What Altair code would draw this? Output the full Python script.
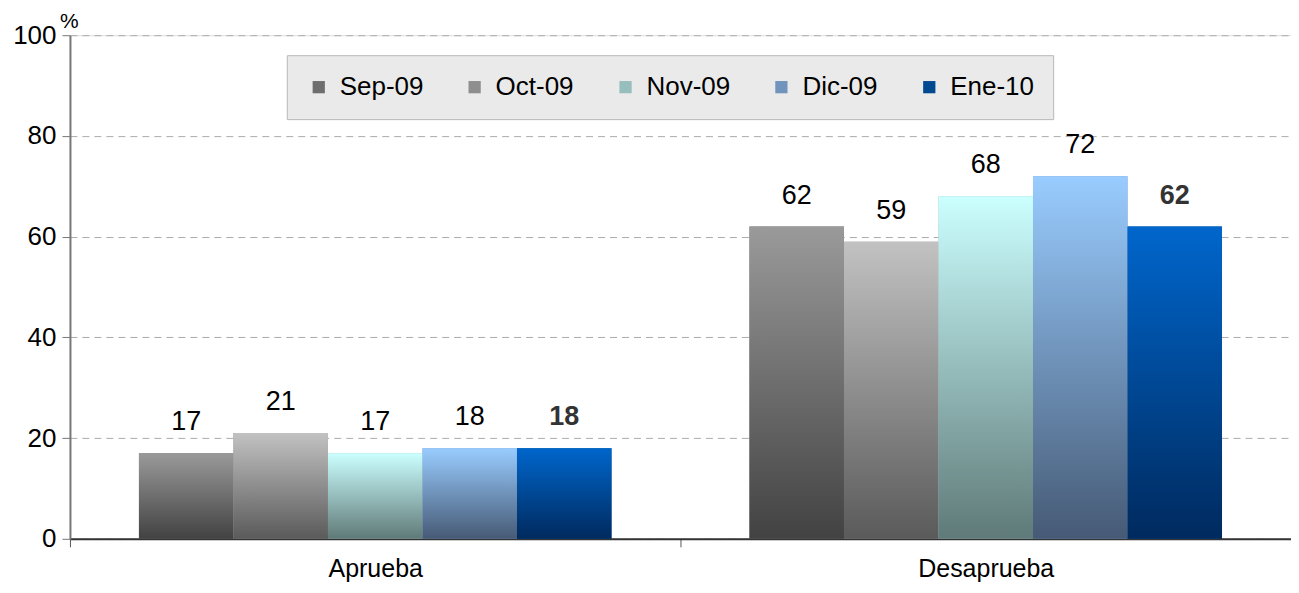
import altair as alt
import pandas as pd

categories = ["Aprueba", "Desaprueba"]
series = ["Sep-09", "Oct-09", "Nov-09", "Dic-09", "Ene-10"]
aprueba = [17, 21, 17, 18, 18]
desaprueba = [62, 59, 68, 72, 62]

top_colors = ["#9A9A9A", "#C2C2C2", "#CCFFFF", "#99CCFF", "#0066CC"]
bottom_colors = ["#424242", "#5A5A5A", "#5F7A78", "#465A75", "#002A5E"]
legend_colors = ["#6E6E6E", "#8E8E8E", "#96BEBC", "#7094BC", "#004890"]

rows = []
for cat, vals in zip(categories, [aprueba, desaprueba]):
    for s, v in zip(series, vals):
        rows.append({"cat": cat, "series": s, "value": v})
df = pd.DataFrame(rows)

FONT = "Liberation Sans"

x_enc = alt.X("cat:N", sort=categories, scale=alt.Scale(paddingInner=0, paddingOuter=0),
              axis=alt.Axis(title=None, labelAngle=0, labelFontSize=25, labelColor="#000000",
                            labelPadding=10, domainColor="#333333", domainWidth=2,
                            tickColor="#555555", tickSize=8, tickBand="extent", grid=False))
xo_enc = alt.XOffset("series:N", sort=series,
                     scale=alt.Scale(domain=series, paddingInner=0, paddingOuter=0.73))
y_enc = alt.Y("value:Q", scale=alt.Scale(domain=[0, 100], nice=False),
              axis=alt.Axis(values=[0, 20, 40, 60, 80, 100], title="%", titleAngle=0,
                            titleFontSize=21, titleFontWeight="normal", titleColor="#000000",
                            titleX=-1, titleY=-4, titleAlign="center", titleBaseline="bottom",
                            labelFontSize=26, labelColor="#000000", labelPadding=6,
                            domainColor="#777777", domainWidth=2, tickColor="#777777",
                            tickSize=8, gridColor="#ABABAB", gridDash=[7, 5], gridWidth=1))

base = alt.Chart(df)

legend_layer = base.mark_bar(strokeWidth=0).encode(
    x=x_enc, xOffset=xo_enc, y=y_enc,
    fill=alt.Fill("series:N", sort=series,
                  scale=alt.Scale(domain=series, range=legend_colors),
                  legend=alt.Legend(title=None, orient="none", direction="horizontal",
                                    legendX=217, legendY=20, columns=5,
                                    symbolType="square", symbolSize=150, symbolStrokeWidth=0,
                                    labelFontSize=26, labelColor="#000000", labelOffset=8,
                                    columnPadding=38, padding=19,
                                    fillColor="#EAEAEA", strokeColor="#B8B8B8",
                                    labelFont=FONT)),
)

layers = [legend_layer]
for s, tc, bc in zip(series, top_colors, bottom_colors):
    grad = alt.Gradient(gradient="linear",
                        stops=[alt.GradientStop(color=tc, offset=0),
                               alt.GradientStop(color=bc, offset=1)],
                        x1=0, x2=0, y1=0, y2=1)
    layers.append(
        base.transform_filter(alt.datum.series == s)
        .mark_bar(fill=grad, strokeWidth=0)
        .encode(x=x_enc, xOffset=xo_enc, y=y_enc)
    )

labels_normal = base.transform_filter(alt.datum.series != "Ene-10").mark_text(
    baseline="bottom", dy=-17, fontSize=27, color="#000000", font=FONT
).encode(x=x_enc, xOffset=xo_enc, y=y_enc, text=alt.Text("value:Q"))

labels_bold = base.transform_filter(alt.datum.series == "Ene-10").mark_text(
    baseline="bottom", dy=-17, fontSize=27, color="#333333", fontWeight="bold", font=FONT
).encode(x=x_enc, xOffset=xo_enc, y=y_enc, text=alt.Text("value:Q"))

layers += [labels_normal, labels_bold]

chart = alt.layer(*layers).properties(
    width=1222, height=504,
    autosize=alt.AutoSizeParams(type="none"),
    padding={"left": 62, "top": 27, "right": 0, "bottom": 46},
    background="#FFFFFF",
).configure_view(fill="#EAEAEA", stroke=None).configure(font=FONT)

chart.save("out.html", embed_options={"renderer": "svg", "actions": False})
